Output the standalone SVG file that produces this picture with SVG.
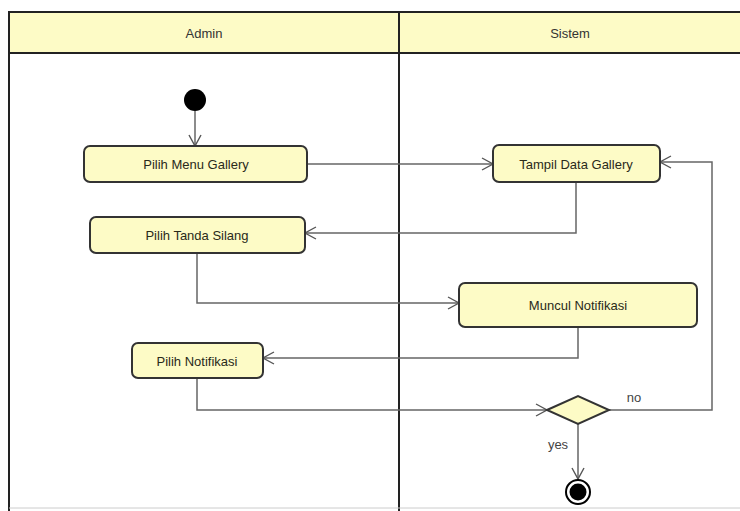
<svg xmlns="http://www.w3.org/2000/svg" width="740" height="511" viewBox="0 0 740 511">
<defs>
<marker id="arr" markerWidth="14" markerHeight="14" refX="12" refY="7" orient="auto" markerUnits="userSpaceOnUse">
<path d="M1,1 L12,7 L1,13" fill="none" stroke="#555" stroke-width="1.4"/>
</marker>
<style>
.lane{fill:none;stroke:#222;stroke-width:2}
.hdr{fill:#fdfbc6;stroke:#222;stroke-width:2}
.act{fill:#fdfbc6;stroke:#333;stroke-width:2}
.t{font-family:"Liberation Sans",Arial,sans-serif;font-size:13px;fill:#2a2a1a;text-anchor:middle;dominant-baseline:central}
.h{font-family:"Liberation Sans",Arial,sans-serif;font-size:13px;fill:#333;text-anchor:middle;dominant-baseline:central}
.lbl{font-family:"Liberation Sans",Arial,sans-serif;font-size:13px;fill:#444;text-anchor:middle;dominant-baseline:central}
.c{fill:none;stroke:#666;stroke-width:1.5}
</style>
</defs>
<rect width="740" height="511" fill="#fff"/>
<g id="lanes">
<rect class="hdr" x="9" y="12" width="740" height="41"/>
<line class="lane" x1="9" y1="12" x2="9" y2="511"/>
<line class="lane" x1="399" y1="12" x2="399" y2="511"/>
<line x1="9" y1="508" x2="740" y2="508" stroke="#ccc" stroke-width="1"/>
<text class="h" x="204" y="33">Admin</text>
<text class="h" x="570" y="33">Sistem</text>
</g>
<g id="connectors">
<path class="c" d="M195,111 L195,146" marker-end="url(#arr)"/>
<path class="c" d="M308,164 L493,164" marker-end="url(#arr)"/>
<path class="c" d="M576,182 L576,233 L305,233" marker-end="url(#arr)"/>
<path class="c" d="M197,253 L197,303 L459,303" marker-end="url(#arr)"/>
<path class="c" d="M578,327 L578,358 L263,358" marker-end="url(#arr)"/>
<path class="c" d="M197,378 L197,410 L547,410" marker-end="url(#arr)"/>
<path class="c" d="M609,410 L712,410 L712,162 L660,162" marker-end="url(#arr)"/>
<path class="c" d="M578,423 L578,479" marker-end="url(#arr)"/>
<text class="lbl" x="634" y="397">no</text>
<text class="lbl" x="558" y="444">yes</text>
</g>
<g id="start"><circle cx="195" cy="100" r="11" fill="#000"/></g>
<g id="pilih-menu-gallery"><rect class="act" x="84" y="146" width="223" height="36" rx="6"/><text class="t" x="196" y="164">Pilih Menu Gallery</text></g>
<g id="tampil-data-gallery"><rect class="act" x="493" y="145" width="167" height="37" rx="6"/><text class="t" x="576" y="164">Tampil Data Gallery</text></g>
<g id="pilih-tanda-silang"><rect class="act" x="90" y="217" width="215" height="36" rx="6"/><text class="t" x="197" y="235">Pilih Tanda Silang</text></g>
<g id="muncul-notifikasi"><rect class="act" x="459" y="283" width="238" height="44" rx="6"/><text class="t" x="578" y="305">Muncul Notifikasi</text></g>
<g id="pilih-notifikasi"><rect class="act" x="132" y="343" width="131" height="35" rx="6"/><text class="t" x="197" y="361">Pilih Notifikasi</text></g>
<g id="decision"><polygon points="547,410 578,396 609,410 578,424" fill="#fdfbc6" stroke="#333" stroke-width="2"/></g>
<g id="end"><circle cx="578" cy="492" r="12" fill="#fff" stroke="#000" stroke-width="2"/><circle cx="578" cy="492" r="8.5" fill="#000"/></g>
</svg>
